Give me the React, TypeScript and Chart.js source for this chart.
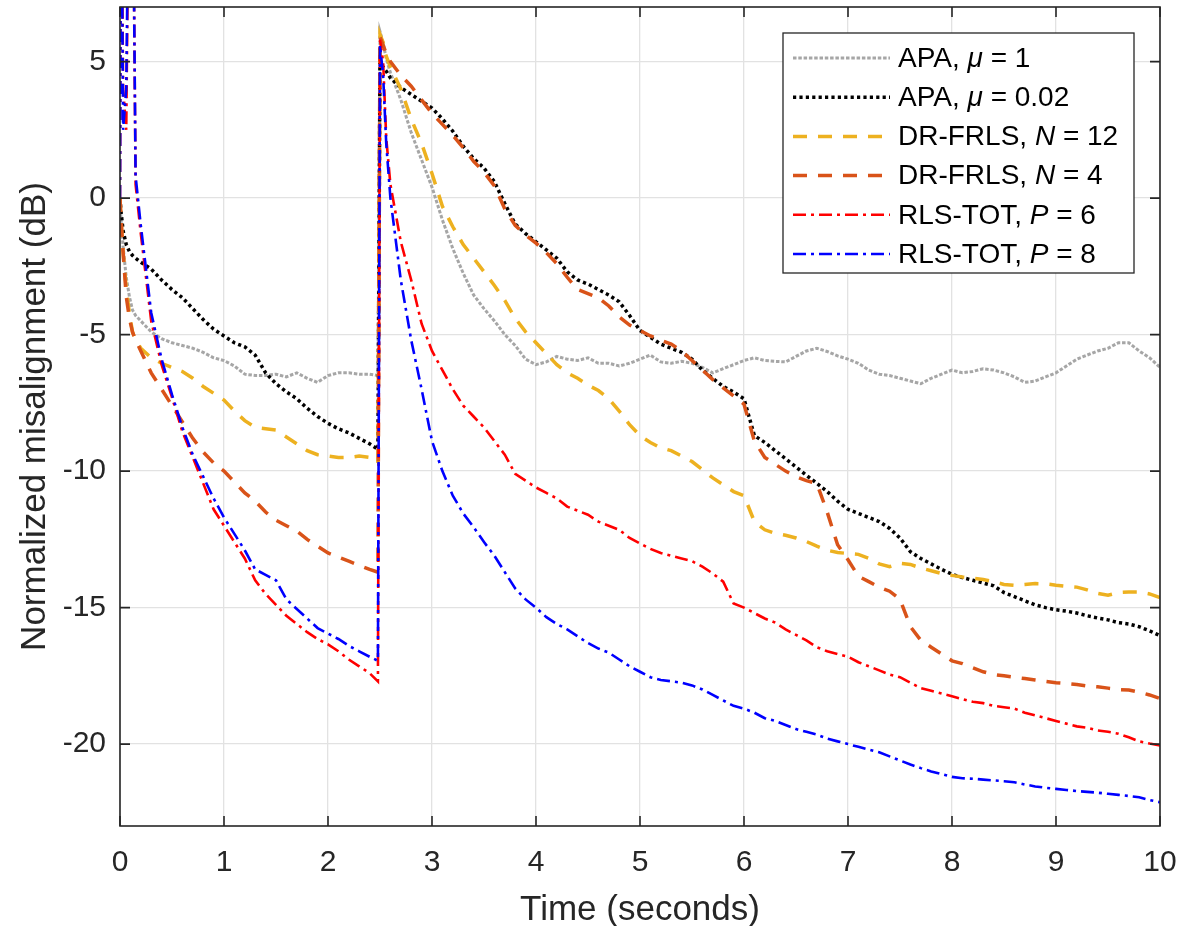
import { useEffect, useRef } from "react";
import { Chart, registerables } from "chart.js";

Chart.register(...registerables);

// ---------------- data ----------------
const time = [
  0, 0.01, 0.03, 0.06, 0.09, 0.12, 0.15, 0.2,
  0.3, 0.4, 0.5, 0.6, 0.7, 0.8, 0.9, 1.0, 1.1, 1.2, 1.3, 1.4, 1.5, 1.6, 1.7, 1.8, 1.9, 2.0, 2.1, 2.2, 2.3, 2.4,
  2.48, 2.5, 2.53, 2.56, 2.6,
  2.7, 2.8, 2.9, 3.0, 3.1, 3.2, 3.3, 3.4, 3.5, 3.6, 3.7, 3.8, 3.9, 4.0, 4.1, 4.2, 4.3, 4.4, 4.5, 4.6, 4.7, 4.8, 4.9,
  5.0, 5.1, 5.2, 5.3, 5.4, 5.5, 5.6, 5.7, 5.8, 5.9, 6.0, 6.1, 6.2, 6.3, 6.4, 6.5, 6.6, 6.7, 6.8, 6.9,
  7.0, 7.1, 7.2, 7.3, 7.4, 7.5, 7.6, 7.7, 7.8, 7.9, 8.0, 8.1, 8.2, 8.3, 8.4, 8.5, 8.6, 8.7, 8.8, 8.9,
  9.0, 9.1, 9.2, 9.3, 9.4, 9.5, 9.6, 9.7, 9.8, 9.9, 10.0,
];

const apaMu1 = [
  0, -0.8, -1.8, -2.9, -3.6, -4.1, -4.3, -4.5,
  -4.9, -5.15, -5.3, -5.4, -5.5, -5.65, -5.85, -5.95, -6.15, -6.45, -6.5, -6.5, -6.45, -6.55, -6.4, -6.6, -6.75, -6.5, -6.4, -6.4, -6.45, -6.45,
  -6.5, 6.1, 5.7, 5.1, 4.6,
  3.6, 2.4, 1.4, 0.4, -0.8, -1.85, -2.75, -3.55, -4.05, -4.5, -5.0, -5.4, -5.9, -6.1, -6.0, -5.8, -5.9, -5.95, -5.85, -6.05, -6.05, -6.15, -6.05,
  -5.9, -5.75, -6.0, -6.05, -5.98, -6.05, -6.2, -6.4, -6.25, -6.1, -5.95, -5.85, -5.95, -5.98, -6.0, -5.8, -5.6, -5.5, -5.62, -5.78,
  -5.9, -6.05, -6.3, -6.45, -6.5, -6.6, -6.7, -6.8, -6.6, -6.45, -6.3, -6.4, -6.35, -6.25, -6.3, -6.4, -6.55, -6.75, -6.7, -6.55,
  -6.4, -6.15, -5.9, -5.75, -5.6, -5.5, -5.3, -5.3, -5.6, -5.85, -6.2,
];

const apaMu002 = [
  0, -0.5, -1.2, -1.7, -1.95, -2.1, -2.2, -2.35,
  -2.6, -3.0, -3.35, -3.65, -4.05, -4.45, -4.8, -5.05, -5.3, -5.45, -5.75, -6.4, -6.8, -7.1, -7.35, -7.7, -8.0, -8.25, -8.45, -8.6, -8.8, -9.0,
  -9.2, 5.0, 4.8, 4.65, 4.4,
  4.05, 3.8, 3.55, 3.3, 2.9, 2.45, 1.9, 1.45, 1.1, 0.6, -0.2, -0.95, -1.3, -1.6, -1.9, -2.2, -2.7, -3.0, -3.15, -3.35, -3.55, -3.8, -4.3,
  -4.85, -5.1, -5.35, -5.5, -5.65, -5.9, -6.3, -6.6, -6.9, -7.1, -7.35, -8.7, -8.95, -9.25, -9.55, -9.85, -10.15, -10.45, -10.75, -11.1,
  -11.4, -11.55, -11.7, -11.85, -12.1, -12.45, -12.95, -13.2, -13.4, -13.6, -13.78, -13.9, -14.0, -14.1, -14.2, -14.45, -14.6, -14.75, -14.9, -15.0,
  -15.08, -15.13, -15.2, -15.3, -15.38, -15.45, -15.55, -15.6, -15.7, -15.85, -16.03,
];

const drFrlsN12 = [
  0, -0.8, -2.0, -3.3, -4.2, -4.9, -5.2, -5.5,
  -5.85, -6.05, -6.2, -6.35, -6.6, -6.9, -7.15, -7.4, -7.8, -8.15, -8.4, -8.45, -8.5, -8.75, -9.0, -9.25, -9.4, -9.45, -9.5, -9.5, -9.45, -9.5,
  -9.7, 6.0, 5.7, 5.2, 4.8,
  4.0, 2.9, 2.0, 0.9, -0.3, -1.05, -1.7, -2.2, -2.7, -3.2, -3.75, -4.4, -4.9, -5.3, -5.7, -6.1, -6.4, -6.6, -6.85, -7.05, -7.35, -7.8, -8.3,
  -8.7, -8.95, -9.15, -9.25, -9.45, -9.65, -9.95, -10.25, -10.5, -10.75, -10.9, -11.85, -12.15, -12.28, -12.35, -12.45, -12.58, -12.75, -12.9, -12.98,
  -13.02, -13.05, -13.2, -13.4, -13.5, -13.38, -13.42, -13.55, -13.65, -13.75, -13.82, -13.88, -13.92, -13.97, -14.05, -14.15, -14.18, -14.15, -14.12, -14.13,
  -14.18, -14.22, -14.25, -14.35, -14.48, -14.55, -14.45, -14.43, -14.43, -14.5, -14.63,
];

const drFrlsN4 = [
  0, -0.8, -2.0, -3.6, -4.4, -4.9, -5.2, -5.6,
  -6.4, -7.0, -7.6, -8.2, -8.8, -9.3, -9.7, -10.0, -10.4, -10.8, -11.1, -11.5, -11.8, -12.0, -12.2, -12.5, -12.75, -13.0, -13.15, -13.3, -13.45, -13.6,
  -13.7, 5.9, 5.6, 5.3, 5.0,
  4.5, 4.1, 3.6, 3.1, 2.7, 2.3, 1.85, 1.35, 0.95, 0.45, -0.4, -1.0, -1.35, -1.65, -2.0, -2.4, -2.9, -3.35, -3.5, -3.65, -3.95, -4.35, -4.65,
  -4.85, -5.05, -5.2, -5.35, -5.6, -5.95, -6.3, -6.65, -6.95, -7.25, -7.55, -8.9, -9.5, -9.75, -10.0, -10.2, -10.35, -10.45, -11.5, -12.7,
  -13.25, -13.85, -14.05, -14.25, -14.4, -14.7, -15.7, -16.2, -16.45, -16.7, -16.95, -17.05, -17.2, -17.35, -17.45, -17.5, -17.55, -17.6, -17.65, -17.7,
  -17.75, -17.78, -17.82, -17.87, -17.9, -17.95, -18.0, -18.02, -18.1, -18.2, -18.33,
];

const rlsTotP6 = [
  0, 14, 4, 2.5, 14, 14, 0.5, -1.3,
  -4.5, -6.1, -7.3, -8.55, -9.5, -10.45, -11.4, -12.0, -12.6, -13.2, -14.0, -14.5, -14.9, -15.3, -15.6, -15.9, -16.15, -16.35, -16.6, -16.9, -17.15, -17.4,
  -17.7, 5.8, 5.0, 2.2, 0.5,
  -1.6, -3.0, -4.6, -5.6, -6.3, -7.0, -7.6, -8.0, -8.4, -8.9, -9.4, -10.1, -10.35, -10.6, -10.8, -11.0, -11.3, -11.45, -11.6, -11.85, -12.0, -12.15, -12.45,
  -12.65, -12.85, -13.0, -13.1, -13.2, -13.3, -13.5, -13.75, -14.05, -14.85, -15.0, -15.2, -15.4, -15.55, -15.8, -16.0, -16.2, -16.45, -16.6, -16.7,
  -16.8, -17.0, -17.15, -17.3, -17.45, -17.55, -17.75, -17.95, -18.05, -18.15, -18.25, -18.35, -18.45, -18.5, -18.6, -18.65, -18.7, -18.85, -18.95, -19.05,
  -19.15, -19.25, -19.35, -19.4, -19.5, -19.55, -19.62, -19.75, -19.9, -19.98, -20.05,
];

const rlsTotP8 = [
  0, 14, 2.5, 4, 14, 14, 0.8, -1.0,
  -4.2, -5.9, -7.2, -8.4, -9.4, -10.2, -11.0, -11.7, -12.3, -12.9, -13.6, -13.8, -14.0, -14.7, -15.05, -15.4, -15.75, -15.95, -16.15, -16.4, -16.6, -16.8,
  -16.95, 5.6, 4.5, 2.0, 0.0,
  -3.0, -5.2, -7.0, -8.9, -10.0, -10.9, -11.55, -12.05, -12.6, -13.1, -13.7, -14.3, -14.7, -15.0, -15.35, -15.6, -15.8, -16.05, -16.3, -16.5, -16.65, -16.9, -17.15,
  -17.35, -17.55, -17.65, -17.7, -17.75, -17.85, -18.0, -18.2, -18.4, -18.6, -18.7, -18.85, -19.05, -19.15, -19.3, -19.45, -19.55, -19.65, -19.8, -19.9,
  -20.0, -20.1, -20.2, -20.3, -20.45, -20.6, -20.75, -20.88, -21.0, -21.1, -21.2, -21.25, -21.27, -21.3, -21.33, -21.36, -21.4, -21.48, -21.55, -21.6,
  -21.64, -21.68, -21.72, -21.75, -21.78, -21.82, -21.86, -21.9, -21.95, -22.05, -22.13,
];

const xTickValues = [0, 1, 2, 3, 4, 5, 6, 7, 8, 9, 10];
const yTickValues = [-20, -15, -10, -5, 0, 5];
const xTitle = "Time (seconds)";
const yTitle = "Normalized misalignment (dB)";
// legend labels: [plain, italic, plain]
const legendLabels = [
  ["APA, ", "μ", " = 1"],
  ["APA, ", "μ", " = 0.02"],
  ["DR-FRLS, ", "N", " = 12"],
  ["DR-FRLS, ", "N", " = 4"],
  ["RLS-TOT, ", "P", " = 6"],
  ["RLS-TOT, ", "P", " = 8"],
];

// ---------------- styles ----------------
const seriesValues = [apaMu1, apaMu002, drFrlsN12, drFrlsN4, rlsTotP6, rlsTotP8];
const seriesColors = ["#a6a6a6", "#000000", "#EDB120", "#D95319", "#FF0000", "#0000FF"];
const seriesDash = [[3.5, 1.8], [3.2, 3.2], [14, 11], [14, 11], [13, 5, 3, 5], [13, 5, 3, 5]];
const seriesWidth = [3, 3.5, 3.5, 3.5, 2.6, 2.6];
const FONT = "'Liberation Sans', Arial, Helvetica, sans-serif";
const INK = "#262626";

const matlabFrame = {
  id: "matlabFrame",
  afterDraw(chart: any) {
    const { ctx, chartArea } = chart;
    const { left, right, top, bottom } = chartArea;
    const xs = chart.scales.x;
    const ys = chart.scales.y;
    ctx.save();
    // box
    ctx.strokeStyle = INK;
    ctx.lineWidth = 1.6;
    ctx.setLineDash([]);
    ctx.strokeRect(left, top, right - left, bottom - top);
    // inward ticks on all sides
    ctx.beginPath();
    for (const v of xTickValues) {
      const px = xs.getPixelForValue(v);
      ctx.moveTo(px, bottom);
      ctx.lineTo(px, bottom - 10);
      ctx.moveTo(px, top);
      ctx.lineTo(px, top + 10);
    }
    for (const v of yTickValues) {
      const py = ys.getPixelForValue(v);
      ctx.moveTo(left, py);
      ctx.lineTo(left + 10, py);
      ctx.moveTo(right, py);
      ctx.lineTo(right - 10, py);
    }
    ctx.stroke();

    // axis titles
    ctx.fillStyle = INK;
    ctx.font = `35px ${FONT}`;
    ctx.textAlign = "center";
    ctx.textBaseline = "alphabetic";
    ctx.fillText(xTitle, (left + right) / 2, 920);
    ctx.save();
    ctx.translate(45, (top + bottom) / 2);
    ctx.rotate(-Math.PI / 2);
    ctx.fillText(yTitle, 0, 0);
    ctx.restore();

    // legend
    const bx = 783, by = 33, bw = 351, bh = 240;
    ctx.fillStyle = "#ffffff";
    ctx.fillRect(bx, by, bw, bh);
    ctx.strokeStyle = INK;
    ctx.lineWidth = 1.3;
    ctx.strokeRect(bx, by, bw, bh);
    legendLabels.forEach((parts, i) => {
      const cy = 58 + i * 39.2;
      ctx.save();
      ctx.strokeStyle = seriesColors[i];
      ctx.lineWidth = seriesWidth[i];
      ctx.lineCap = "butt";
      ctx.setLineDash(seriesDash[i]);
      ctx.beginPath();
      ctx.moveTo(793, cy);
      ctx.lineTo(890, cy);
      ctx.stroke();
      ctx.restore();
      let tx = 898;
      ctx.fillStyle = "#000000";
      ctx.textAlign = "left";
      ctx.textBaseline = "middle";
      parts.forEach((p, k) => {
        ctx.font = (k === 1 ? "italic " : "") + `28px ${FONT}`;
        ctx.fillText(p, tx, cy + 1);
        tx += ctx.measureText(p).width;
      });
    });
    ctx.restore();
  },
};

export default function App() {
  const ref = useRef<HTMLCanvasElement>(null);
  useEffect(() => {
    document.body.style.margin = "0";
    const datasets = seriesValues.map((vals, i) => ({
      label: legendLabels[i].join(""),
      data: time.map((t, k) => ({ x: t, y: vals[k] })),
      borderColor: seriesColors[i],
      backgroundColor: seriesColors[i],
      borderWidth: seriesWidth[i],
      borderDash: seriesDash[i],
      borderCapStyle: "butt" as const,
      borderJoinStyle: "miter" as const,
      pointRadius: 0,
      tension: 0,
      fill: false,
      order: seriesValues.length - i,
    }));
    const chart = new Chart(ref.current as HTMLCanvasElement, {
      type: "line",
      data: { datasets },
      options: {
        animation: false,
        responsive: false,
        devicePixelRatio: 1,
        layout: { padding: { left: 0, top: 7, right: 19, bottom: 0 } },
        plugins: { legend: { display: false }, tooltip: { enabled: false }, title: { display: false } },
        scales: {
          x: {
            type: "linear",
            min: 0,
            max: 10,
            afterBuildTicks: (s: any) => {
              s.ticks = xTickValues.map((v) => ({ value: v }));
            },
            afterFit: (s: any) => {
              s.height = 100;
              s.paddingLeft = 0;
              s.paddingRight = 0;
            },
            grid: { color: "#e2e2e2", lineWidth: 1.3, drawTicks: false },
            border: { display: false },
            ticks: {
              padding: 19,
              color: INK,
              font: { family: FONT, size: 30 },
              maxRotation: 0,
              autoSkip: false,
              callback: (v: any) => String(v),
            },
          },
          y: {
            type: "linear",
            min: -23,
            max: 7,
            afterBuildTicks: (s: any) => {
              s.ticks = yTickValues.map((v) => ({ value: v }));
            },
            afterFit: (s: any) => {
              s.width = 120;
              s.paddingTop = 0;
              s.paddingBottom = 0;
            },
            grid: { color: "#e2e2e2", lineWidth: 1.3, drawTicks: false },
            border: { display: false },
            ticks: {
              padding: 14,
              color: INK,
              font: { family: FONT, size: 30 },
              autoSkip: false,
              callback: (v: any) => String(v),
            },
          },
        },
      } as any,
      plugins: [matlabFrame],
    });
    return () => chart.destroy();
  }, []);
  return (
    <div style={{ position: "absolute", left: 0, top: 0, width: 1179, height: 926, background: "#ffffff" }}>
      <canvas ref={ref} width={1179} height={926} style={{ display: "block" }} />
    </div>
  );
}
